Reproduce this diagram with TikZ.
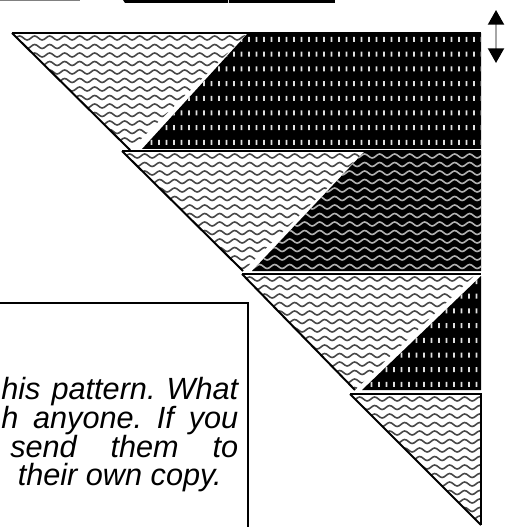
\documentclass[tikz,border=0pt]{standalone}
\usepackage{fontspec}
\setmainfont{Liberation Sans}
\usetikzlibrary{arrows.meta,decorations.pathmorphing}
\frenchspacing

\tikzset{
  wavy/.style={decorate,decoration={snake,amplitude=1.5pt,segment length=11.25pt},line width=1.2pt},
  lightwave/.style={wavy,black!72},
  darkwave/.style={wavy,white!70!black},
  dashbit/.style={fill=white!88!black},
  rim/.style={line width=0.8pt},
  seam/.style={line width=1.5pt},
  txt/.style={inner sep=0pt,font=\fontsize{23pt}{25pt}\selectfont\itshape}
}

\begin{document}
\begin{tikzpicture}[x=0.75pt,y=-0.75pt]
  \useasboundingbox (0,0) rectangle (511,527);
% --- text box ---
  \node[txt,anchor=base west] (line1) at (1,399) {\makebox[177.75pt][s]{his pattern. What}};
  \node[txt,anchor=base west] (line2) at (1,428) {\makebox[177.75pt][s]{h anyone. If you}};
  \node[txt,anchor=base west] (line3) at (10,457) {\makebox[171pt][s]{send them to}};
  \node[txt,anchor=base east] (line4) at (222,485) {their own copy.};
  \draw[seam] (0,303) -- (248,303) -- (248,527);
% --- bits of the shape above ---
  \draw[gray,line width=0.8pt] (0,0.5) -- (80,0.5);
  \fill[black] (123,0) -- (228,0) -- (228,3) -- (125,3) -- cycle;
  \fill[black] (229,0) -- (335,0) -- (335,3) -- (229,3) -- cycle;
% --- row 1 ---
  \begin{scope}
    \clip (248,33) -- (481,33) -- (481,149) -- (142,149) -- cycle;
    \fill[black] (140,30) rectangle (485,152);
    \fill[dashbit] \foreach \x in {143,150.5,...,481} {\foreach \y in {37,51.7,...,149} {(\x,\y) rectangle ++(1.8,5)}};
  \end{scope}
  \begin{scope}
    \clip (12,33) -- (248,33) -- (130,150) -- cycle;
    \foreach \y in {38,46.5,...,150} \draw[lightwave] (0,\y) -- (260,\y);
  \end{scope}
  \draw[rim] (12,33) -- (481,33);
  \draw[seam] (12,33) -- (130,150);
% --- row 2 ---
  \begin{scope}
    \clip (365,151) -- (481,151) -- (481,271) -- (252,271) -- cycle;
    \fill[black] (250,148) rectangle (485,274);
    \foreach \y in {156,164.5,...,271} \draw[darkwave] (240,\y) -- (490,\y);
  \end{scope}
  \begin{scope}
    \clip (122,151) -- (365,151) -- (243,271) -- cycle;
    \foreach \y in {156,164.5,...,271} \draw[lightwave] (110,\y) -- (380,\y);
  \end{scope}
  \draw[rim] (122,151) -- (481,151);
  \draw[seam] (122,151) -- (243,271);
% --- row 3 ---
  \begin{scope}
    \clip (481,276) -- (481,390) -- (362,390) -- cycle;
    \fill[black] (355,270) rectangle (485,393);
    \fill[dashbit] \foreach \x in {363,370.5,...,481} {\foreach \y in {279,293.7,...,390} {(\x,\y) rectangle ++(1.8,5)}};
  \end{scope}
  \begin{scope}
    \clip (242,274) -- (476,274) -- (355,390) -- cycle;
    \foreach \y in {279,287.5,...,390} \draw[lightwave] (230,\y) -- (490,\y);
  \end{scope}
  \draw[rim] (242,274) -- (481,274);
  \draw[seam] (242,274) -- (355,390);
% --- row 4 ---
  \begin{scope}
    \clip (350,394) -- (481,394) -- (481,525) -- cycle;
    \foreach \y in {399,407.5,...,525} \draw[lightwave] (340,\y) -- (490,\y);
  \end{scope}
  \draw[rim] (350,394) -- (481,394) -- (481,525);
  \draw[seam] (350,394) -- (481,525);
% --- height arrow ---
  \coordinate (up) at (496,10);
  \coordinate (dn) at (496,63);
  \draw[gray!70,line width=1.5pt,
    {Triangle[color=black,width=12pt,length=11pt]}-{Triangle[color=black,width=12pt,length=11pt]}]
    (up) -- (dn);
\end{tikzpicture}
\end{document}
